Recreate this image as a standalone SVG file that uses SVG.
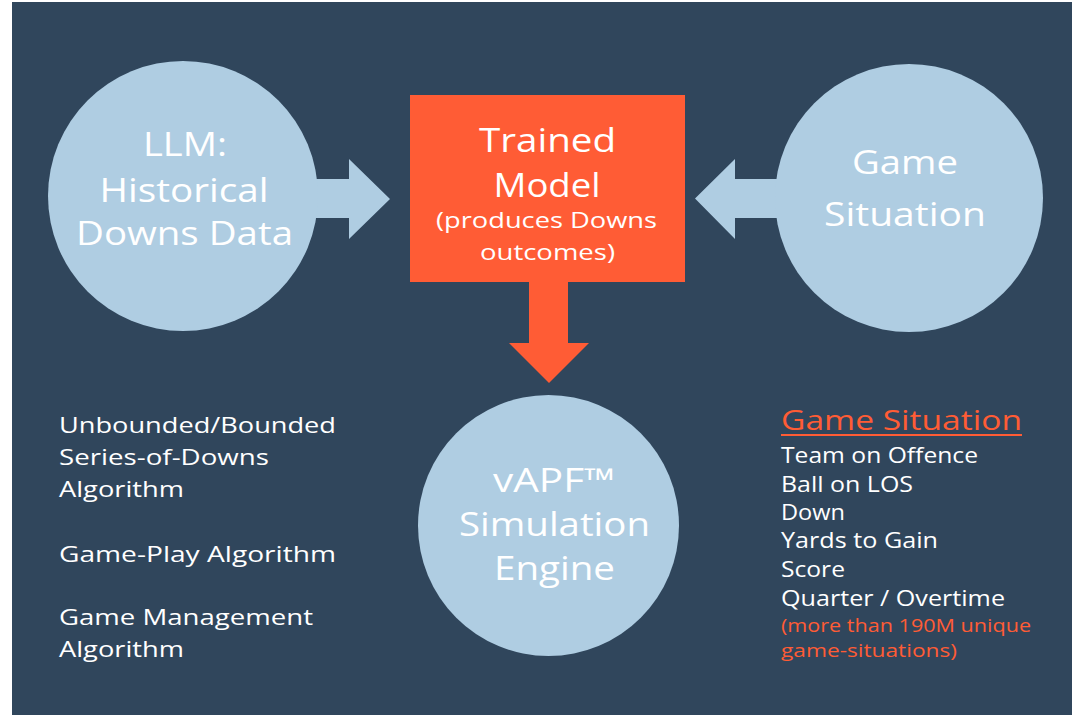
<svg xmlns="http://www.w3.org/2000/svg" width="1072" height="715" viewBox="0 0 1072 715">
  <style>
    .t { font-family: "Open Sans", "Liberation Sans", sans-serif; fill: #ffffff; }
    .big { font-size: 33px; text-anchor: middle; }
    .mid { font-size: 22px; text-anchor: middle; }
    .list { font-size: 21px; }
    .orange { fill: #FF5C35; }
    .circle { fill: #AFCDE2; }
    .arrow-blue { fill: #AFCDE2; }
    .arrow-orange { fill: #FF5C35; }
  </style>
  <rect x="0" y="0" width="1072" height="715" fill="#ffffff"/>
  <rect x="12" y="2" width="1060" height="713" fill="#30465C"/>

  <g id="connectors">
    <polygon class="arrow-blue" points="300,179 349,179 349,159 390,199 349,239 349,218 300,218"/>
    <polygon class="arrow-blue" points="800,179 735,179 735,159 695,198.5 735,239 735,218 800,218"/>
    <polygon class="arrow-orange" points="529,280 568,280 568,343 589,343 549,383 509,343 529,343"/>
  </g>

  <g id="node-llm">
    <circle class="circle" cx="183" cy="196" r="135"/>
    <text class="t big" x="185" y="156" textLength="84" lengthAdjust="spacingAndGlyphs">LLM:</text>
    <text class="t big" x="184" y="202" textLength="169" lengthAdjust="spacingAndGlyphs">Historical</text>
    <text class="t big" x="184.5" y="245" textLength="217" lengthAdjust="spacingAndGlyphs">Downs Data</text>
  </g>

  <g id="node-trained-model">
    <rect x="410" y="95" width="275" height="187" fill="#FF5C35"/>
    <text class="t big" x="547.5" y="152" textLength="137" lengthAdjust="spacingAndGlyphs">Trained</text>
    <text class="t big" x="547" y="197" textLength="107" lengthAdjust="spacingAndGlyphs">Model</text>
    <text class="t mid" x="546.5" y="228" textLength="221" lengthAdjust="spacingAndGlyphs">(produces Downs</text>
    <text class="t mid" x="547.5" y="260" textLength="135" lengthAdjust="spacingAndGlyphs">outcomes)</text>
  </g>

  <g id="node-game-situation">
    <circle class="circle" cx="909" cy="198" r="134"/>
    <text class="t big" x="905" y="174" textLength="106" lengthAdjust="spacingAndGlyphs">Game</text>
    <text class="t big" x="905" y="226" textLength="162" lengthAdjust="spacingAndGlyphs">Situation</text>
  </g>

  <g id="node-vapf">
    <circle class="circle" cx="548.5" cy="525.5" r="130.5"/>
    <text class="t big" x="554" y="492" textLength="122" lengthAdjust="spacingAndGlyphs">vAPF™</text>
    <text class="t big" x="554.5" y="536" textLength="191" lengthAdjust="spacingAndGlyphs">Simulation</text>
    <text class="t big" x="554.5" y="580" textLength="121" lengthAdjust="spacingAndGlyphs">Engine</text>
  </g>

  <g id="algorithms-list">
    <text class="t list" x="59" y="433" textLength="277" lengthAdjust="spacingAndGlyphs">Unbounded/Bounded</text>
    <text class="t list" x="59" y="465" textLength="210" lengthAdjust="spacingAndGlyphs">Series-of-Downs</text>
    <text class="t list" x="59" y="497" textLength="125" lengthAdjust="spacingAndGlyphs">Algorithm</text>
    <text class="t list" x="59" y="562" textLength="277" lengthAdjust="spacingAndGlyphs">Game-Play Algorithm</text>
    <text class="t list" x="59" y="625" textLength="254" lengthAdjust="spacingAndGlyphs">Game Management</text>
    <text class="t list" x="59" y="657" textLength="125" lengthAdjust="spacingAndGlyphs">Algorithm</text>
  </g>

  <g id="game-situation-list">
    <text class="t orange" x="781" y="430" font-size="27" textLength="241" lengthAdjust="spacingAndGlyphs">Game Situation</text>
    <rect x="781" y="434" width="241" height="2" fill="#FF5C35"/>
    <text class="t list" x="781" y="463" textLength="197" lengthAdjust="spacingAndGlyphs">Team on Offence</text>
    <text class="t list" x="781" y="492" textLength="132" lengthAdjust="spacingAndGlyphs">Ball on LOS</text>
    <text class="t list" x="781" y="520" textLength="64" lengthAdjust="spacingAndGlyphs">Down</text>
    <text class="t list" x="781" y="548" textLength="157" lengthAdjust="spacingAndGlyphs">Yards to Gain</text>
    <text class="t list" x="781" y="577" textLength="64" lengthAdjust="spacingAndGlyphs">Score</text>
    <text class="t list" x="781" y="606" textLength="224" lengthAdjust="spacingAndGlyphs">Quarter / Overtime</text>
    <text class="t orange" x="781" y="632" font-size="19" textLength="250" lengthAdjust="spacingAndGlyphs">(more than 190M unique</text>
    <text class="t orange" x="781" y="657" font-size="19" textLength="176" lengthAdjust="spacingAndGlyphs">game-situations)</text>
  </g>
</svg>
